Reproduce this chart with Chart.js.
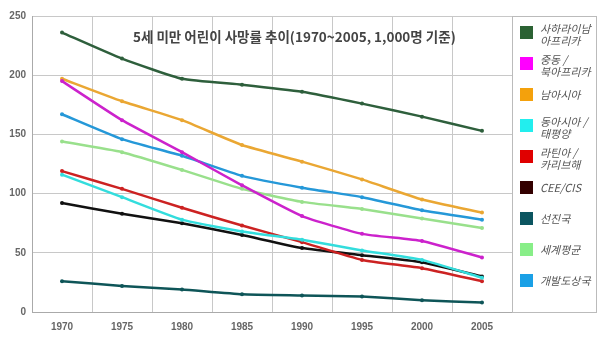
<!DOCTYPE html>
<html>
<head>
<meta charset="utf-8">
<script src="https://cdn.jsdelivr.net/npm/chart.js@4"></script>
<style>
  html, body { margin: 0; padding: 0; background: #fff; }
  #wrap { width: 604px; height: 345px; position: relative; }
</style>
</head>
<body>
<div id="wrap"><canvas id="chart" width="604" height="345"></canvas></div>
<script>
const years = ['1970', '1975', '1980', '1985', '1990', '1995', '2000', '2005']

const subSaharan = [236, 214, 197, 192, 186, 176, 165, 153]
const middleEast = [195, 162, 135, 107, 81, 66, 60, 46]
const southAsia = [197, 178, 162, 141, 127, 112, 95, 84]
const eastAsia = [116, 97, 78, 68, 61, 52, 44, 29]
const latinAmerica = [119, 104, 88, 73, 59, 44, 37, 26]
const ceeCis = [92, 83, 75, 65, 54, 48, 42, 30]
const industrialized = [26, 22, 19, 15, 14, 13, 10, 8]
const worldAvg = [144, 135, 120, 104, 93, 87, 79, 71]
const developing = [167, 146, 132, 115, 105, 97, 86, 78]

const titleText = '5세 미만 어린이 사망률 추이(1970~2005, 1,000명 기준)'

// legend labels, one array entry per line
const names = [
    ['사하라이남', '아프리카'],
    ['중동 /', '북아프리카'],
    ['남아시아'],
    ['동아시아 /', '태평양'],
    ['라틴아 /', '카리브해'],
    ['CEE/CIS'],
    ['선진국'],
    ['세계평균'],
    ['개발도상국']
]
const boxColors = ['#2b6233', '#ff00ff', '#f4a10c', '#22eeee', '#e00000', '#330000', '#0b5560', '#88ee88', '#1aa0e6']
const lineColors = ['#2e5f3c', '#cc22cc', '#eaa733', '#33dddd', '#cc2222', '#111111', '#0e5558', '#99e08c', '#2598d8']
const values = [subSaharan, middleEast, southAsia, eastAsia, latinAmerica, ceeCis, industrialized, worldAvg, developing]

const datasets = values.map((v, i) => ({
    label: names[i].join(' '),
    data: v,
    borderColor: lineColors[i],
    backgroundColor: lineColors[i],
    pointBackgroundColor: lineColors[i],
    pointBorderColor: lineColors[i],
    borderWidth: 2.5,
    pointRadius: 2,
    pointBorderWidth: 0,
    tension: 0.15,
    fill: false
}))

// title drawn inside the plot, and the boxed legend on the right
const decorations = {
    id: 'decorations',
    afterDraw(chart) {
        const ctx = chart.ctx
        const area = chart.chartArea
        ctx.save()

        ctx.font = 'bold 13.5px "Noto Sans CJK KR"'
        ctx.fillStyle = '#444'
        ctx.textAlign = 'left'
        ctx.textBaseline = 'middle'
        ctx.fillText(titleText, 133, 37)

        ctx.strokeStyle = '#bbbbbb'
        ctx.lineWidth = 1
        ctx.strokeRect(area.right + 0.5, area.top + 0.5, 84, area.bottom - area.top)

        names.forEach((lines, i) => {
            const cy = 32 + i * 31
            ctx.fillStyle = boxColors[i]
            ctx.fillRect(520, cy - 6, 13, 13)
            ctx.fillStyle = '#555'
            ctx.font = 'italic 11px "Noto Sans CJK KR"'
            if (lines.length == 1) {
                ctx.fillText(lines[0], 540, cy + 1)
            } else {
                ctx.fillText(lines[0], 540, cy - 3)
                ctx.fillText(lines[1], 540, cy + 9)
            }
        })
        ctx.restore()
    }
}

const ctx = document.getElementById('chart').getContext('2d')
const myChart = new Chart(ctx, {
    type: 'line',
    data: { labels: years, datasets: datasets },
    options: {
        responsive: false,
        animation: false,
        layout: { padding: { top: 16, right: 92, left: 0, bottom: 0 } },
        plugins: {
            legend: { display: false },
            title: { display: false },
            tooltip: { enabled: false }
        },
        scales: {
            x: {
                type: 'category',
                offset: true,
                grid: { offset: true, color: '#c8c8c8', drawTicks: false },
                border: { color: '#aaaaaa' },
                ticks: {
                    color: '#666',
                    padding: 9,
                    font: { family: 'Liberation Sans', size: 10, weight: 'bold' }
                },
                afterFit(scale) { scale.height = 33 }
            },
            y: {
                type: 'linear',
                min: 0,
                max: 250,
                grid: { color: '#c8c8c8', drawTicks: false },
                border: { color: '#aaaaaa' },
                ticks: {
                    stepSize: 50,
                    color: '#666',
                    padding: 6,
                    font: { family: 'Liberation Sans', size: 10, weight: 'bold' }
                },
                afterFit(scale) { scale.width = 32 }
            }
        }
    },
    plugins: [decorations]
})
</script>
</body>
</html>
